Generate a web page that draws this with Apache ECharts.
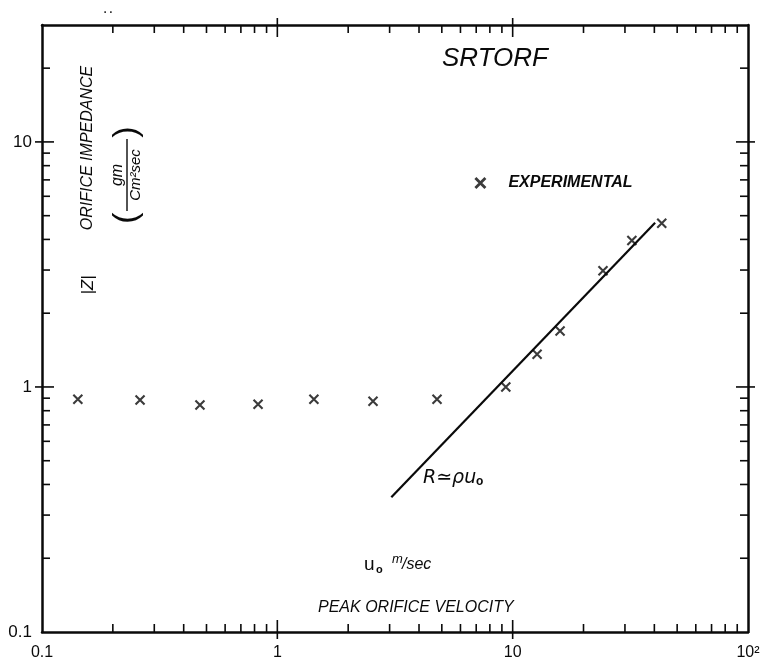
<!DOCTYPE html>
<html>
<head>
<meta charset="utf-8">
<title>SRTORF orifice impedance</title>
<script src="https://cdn.jsdelivr.net/npm/echarts@6/dist/echarts.min.js"></script>
<style>
  html, body { margin: 0; padding: 0; background: #fff; }
  #chart { width: 765px; height: 665px; }
</style>
</head>
<body>
<div id="chart"></div>
<script>
// Measured orifice impedance |Z| (gm/cm^2 sec) against peak orifice velocity u0 (m/sec)
const expU = [0.142, 0.261, 0.469, 0.828, 1.43, 2.55, 4.77, 9.35, 12.7, 15.9, 24.2, 32.1, 43.0];
const expZ = [0.891, 0.885, 0.844, 0.850, 0.891, 0.874, 0.891, 1.00, 1.36, 1.69, 2.98, 3.96, 4.66];

// Resistance line R ~ rho * u0
const fitU = [3.05, 40.3];
const fitZ = [0.355, 4.68];

// Decade tick labels
const xTickValues = [0.1, 1, 10, 100];
const xTickLabels = ['0.1', '1', '10', '10²'];
const yTickValues = [0.1, 1, 10];
const yTickLabels = ['0.1', '1', '10'];

const X_MIN = 0.1, X_MAX = 100, Y_MIN = 0.1, Y_MAX = 30;
const INK = '#0a0a0a';
const HAND = '"Liberation Sans", Arial, sans-serif';

function labelFor(values, labels) {
  return function (v) {
    const i = values.findIndex(t => Math.abs(Math.log10(t) - Math.log10(v)) < 1e-6);
    return i < 0 ? '' : labels[i];
  };
}

// Tick marks on all four sides: minor ticks at 2..9 within each decade
function sideTicks(lo, hi) {
  const out = [];
  for (let d = lo; d < hi * 0.999; d *= 10) {
    out.push({ v: d, major: 1 });
    for (let m = 2; m <= 9; m++) {
      const v = m * d;
      if (v < hi * 0.999) out.push({ v: v, major: 0 });
    }
  }
  return out;
}
const tickData = [];
sideTicks(X_MIN, X_MAX).forEach(t => {
  tickData.push([t.v, Y_MIN, 0, t.major]);
  tickData.push([t.v, Y_MAX, 1, t.major]);
});
sideTicks(Y_MIN, Y_MAX).forEach(t => {
  tickData.push([X_MIN, t.v, 2, t.major]);
  tickData.push([X_MAX, t.v, 3, t.major]);
});

function renderTick(params, api) {
  const p = api.coord([api.value(0), api.value(1)]);
  const side = api.value(2);
  const major = api.value(3) === 1;
  const dirs = [[0, -1], [0, 1], [1, 0], [-1, 0]];
  const d = dirs[side];
  const inner = major ? 12 : 8;
  const isCorner = (side < 2 && (Math.abs(api.value(0) - X_MIN) < 1e-9)) ||
                   (side >= 2 && (Math.abs(api.value(1) - Y_MIN) < 1e-9));
  if (isCorner) return null;
  const outer = major ? 7 : 0;
  return {
    type: 'line',
    shape: {
      x1: p[0] - d[0] * outer, y1: p[1] - d[1] * outer,
      x2: p[0] + d[0] * inner, y2: p[1] + d[1] * inner
    },
    style: { stroke: INK, lineWidth: 1.6 }
  };
}

const crossPath = 'path://M0,0L10,10M10,0L0,10';

const baseAxis = {
  type: 'log',
  logBase: 10,
  axisLine: { show: true, lineStyle: { color: INK, width: 2.5 } },
  axisTick: { show: false },
  minorTick: { show: false },
  splitLine: { show: false },
  minorSplitLine: { show: false }
};

const chart = echarts.init(document.getElementById('chart'), null, { renderer: 'canvas' });

chart.setOption({
  animation: false,
  backgroundColor: '#fff',
  grid: { left: 42, right: 17, top: 25, bottom: 33, containLabel: false },
  xAxis: [
    Object.assign({}, baseAxis, {
      min: X_MIN, max: X_MAX, position: 'bottom',
      axisLabel: {
        formatter: labelFor(xTickValues, xTickLabels),
        margin: 13, fontSize: 16, color: INK, fontFamily: HAND,
        showMinLabel: true, showMaxLabel: true
      }
    }),
    Object.assign({}, baseAxis, {
      min: X_MIN, max: X_MAX, position: 'top', axisLabel: { show: false }
    })
  ],
  yAxis: [
    Object.assign({}, baseAxis, {
      min: Y_MIN, max: Y_MAX, position: 'left',
      axisLabel: {
        formatter: labelFor(yTickValues, yTickLabels),
        margin: 10, fontSize: 17, color: INK, fontFamily: HAND,
        showMinLabel: true, showMaxLabel: false
      }
    }),
    Object.assign({}, baseAxis, {
      min: Y_MIN, max: Y_MAX, position: 'right', axisLabel: { show: false }
    })
  ],
  legend: {
    data: ['EXPERIMENTAL'],
    left: 469,
    top: 170,
    itemWidth: 22,
    itemHeight: 10,
    icon: crossPath,
    itemStyle: { color: 'rgba(0,0,0,0)', borderColor: INK, borderWidth: 2.8 },
    textStyle: {
      color: INK, fontSize: 16, fontStyle: 'italic', fontWeight: 'bold',
      fontFamily: HAND, padding: [0, 0, 0, 12]
    },
    selectedMode: false
  },
  series: [
    {
      name: 'EXPERIMENTAL',
      type: 'scatter',
      data: expU.map((u, i) => [u, expZ[i]]),
      symbol: crossPath,
      symbolSize: 9,
      itemStyle: { color: 'rgba(0,0,0,0)', borderColor: INK, borderWidth: 2.1 },
      z: 4
    },
    {
      name: 'R ≃ ρu₀',
      type: 'line',
      data: fitU.map((u, i) => [u, fitZ[i]]),
      symbol: 'none',
      lineStyle: { color: INK, width: 2.2 },
      z: 3
    },
    {
      name: 'ticks',
      type: 'custom',
      data: tickData,
      renderItem: renderTick,
      silent: true,
      clip: false,
      z: 5
    }
  ],
  graphic: [
    {
      type: 'text', left: 442, top: 46,
      style: { text: 'SRTORF', font: 'italic 26px ' + HAND, fill: INK }
    },
    {
      type: 'text', x: 108, y: 10,
      style: { text: '. .', font: 'bold 10px ' + HAND, fill: INK, align: 'center', verticalAlign: 'middle' }
    },
    {
      type: 'text', x: 88, y: 148, rotation: Math.PI / 2,
      style: { text: 'ORIFICE IMPEDANCE', font: 'italic 16px ' + HAND, fill: INK, align: 'center', verticalAlign: 'middle' }
    },
    {
      type: 'text', x: 88, y: 285, rotation: Math.PI / 2,
      style: { text: '|Z|', font: 'italic 17px ' + HAND, fill: INK, align: 'center', verticalAlign: 'middle' }
    },
    {
      type: 'group', x: 127, y: 175, rotation: Math.PI / 2,
      children: [
        { type: 'text', x: 0, y: -9, style: { text: 'gm', font: 'italic 16px ' + HAND, fill: INK, align: 'center', verticalAlign: 'middle' } },
        { type: 'line', shape: { x1: -36, y1: 0, x2: 36, y2: 0 }, style: { stroke: INK, lineWidth: 1.4 } },
        { type: 'text', x: 0, y: 9, style: { text: 'Cm²sec', font: 'italic 15px ' + HAND, fill: INK, align: 'center', verticalAlign: 'middle' } },
        { type: 'text', x: -43, y: 0, style: { text: '(', font: '34px ' + HAND, fill: INK, align: 'center', verticalAlign: 'middle' } },
        { type: 'text', x: 43, y: 0, style: { text: ')', font: '34px ' + HAND, fill: INK, align: 'center', verticalAlign: 'middle' } }
      ]
    },
    {
      type: 'text', x: 364, y: 565,
      style: { text: 'u', font: '19px ' + HAND, fill: INK, verticalAlign: 'middle' }
    },
    {
      type: 'text', x: 376, y: 570,
      style: { text: 'o', font: 'bold 11px ' + HAND, fill: INK, verticalAlign: 'middle' }
    },
    {
      type: 'text', x: 392, y: 559,
      style: { text: 'm', font: 'italic 13px ' + HAND, fill: INK, verticalAlign: 'middle' }
    },
    {
      type: 'text', x: 402, y: 565,
      style: { text: '/sec', font: 'italic 16px ' + HAND, fill: INK, verticalAlign: 'middle' }
    },
    {
      type: 'text', x: 318, y: 608,
      style: { text: 'PEAK ORIFICE VELOCITY', font: 'italic 16px ' + HAND, fill: INK, verticalAlign: 'middle' }
    },
    {
      type: 'text', x: 423, y: 478,
      style: { text: 'R≃ρu', font: 'italic 19px "DejaVu Sans", ' + HAND, fill: INK, verticalAlign: 'middle' }
    },
    {
      type: 'text', x: 476, y: 482,
      style: { text: 'o', font: 'bold 12px ' + HAND, fill: INK, verticalAlign: 'middle' }
    }
  ]
});
</script>
</body>
</html>
